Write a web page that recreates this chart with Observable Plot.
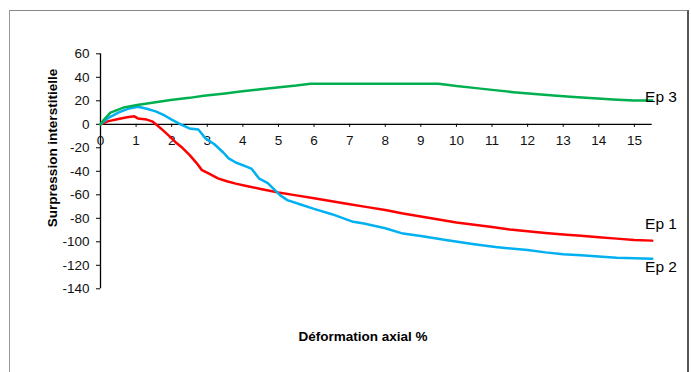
<!DOCTYPE html>
<html>
<head>
<meta charset="utf-8">
<script src="https://cdn.jsdelivr.net/npm/d3@7"></script>
<script src="https://cdn.jsdelivr.net/npm/@observablehq/plot@0.6"></script>
<style>
  body { margin: 0; background: #fff; }
  #wrap { position: relative; width: 691px; height: 372px; overflow: hidden; font-family: 'Liberation Sans', Arial, sans-serif; }
  #frame { position: absolute; left: 9px; top: 10px; width: 677px; height: 400px;
           border-left: 1px solid #999; border-top: 1px solid #888; border-right: 2px solid #555; }
  #chart { position: absolute; left: 0; top: 0; }
  .title { position: absolute; font-weight: bold; font-size: 13.5px; color: #000; white-space: nowrap; line-height: 1; }
  #ytitle { left: 53px; top: 148px; transform: translate(-50%, -50%) rotate(-90deg); }
  #xtitle { left: 363px; top: 337px; transform: translate(-50%, -50%); }
</style>
</head>
<body>
<div id="wrap"><div id="frame"></div><div id="chart"></div>
<div class="title" id="ytitle"></div><div class="title" id="xtitle"></div></div>
<script>
const ep1X = [0, 0.2, 0.5, 0.75, 0.95, 1.05, 1.3, 1.45, 1.6, 1.75, 1.95, 2.1, 2.3, 2.5, 2.7, 2.85, 3.05, 3.3, 3.55, 3.8, 4.1, 4.5, 5.0, 5.5, 6.0, 6.5, 7.0, 7.5, 8.0, 8.5, 9.0, 9.5, 10.0, 10.5, 11.0, 11.5, 12.0, 12.5, 13.0, 13.5, 14.0, 14.5, 15.0, 15.5];
const ep1Y = [0, 2.5, 4.5, 6, 6.8, 5, 4, 2.5, -1, -5, -10.5, -15, -20, -26, -33, -39, -42, -46, -48.5, -50.5, -52.5, -55, -58, -60.5, -63, -65.5, -68, -70.5, -73, -76, -78.5, -81, -83.5, -85.5, -87.5, -89.5, -91, -92.5, -93.8, -94.8, -96.2, -97.3, -98.5, -99];

const ep2X = [0, 0.2, 0.5, 0.8, 1.05, 1.3, 1.55, 1.8, 2.0, 2.25, 2.5, 2.75, 2.95, 3.2, 3.45, 3.6, 3.8, 4.1, 4.25, 4.45, 4.7, 4.9, 5.05, 5.25, 5.6, 6.0, 6.5, 7.1, 7.4, 8.0, 8.5, 9.0, 9.7, 10.5, 11.1, 12.0, 12.5, 13.0, 13.5, 14.0, 14.5, 15.0, 15.5];
const ep2Y = [0, 5, 10, 13.5, 15, 13.2, 11, 7.5, 4, 0, -3.5, -4.5, -12, -17, -24, -29, -32.5, -36, -38, -46, -50, -56, -60.5, -64.5, -68, -72, -76.5, -83, -84.5, -88.5, -93, -95, -98.5, -102, -104.5, -107, -109, -110.5, -111.5, -112.5, -113.5, -114, -114.5];

const ep3X = [0, 0.1, 0.28, 0.5, 0.66, 1.03, 1.5, 1.97, 2.5, 2.9, 3.5, 3.93, 4.5, 4.96, 5.5, 5.9, 6.5, 9.5, 10.0, 10.49, 11.0, 11.6, 12.2, 12.73, 13.3, 13.86, 14.4, 14.98, 15.5];
const ep3Y = [0, 4, 10, 12.5, 14.4, 16.4, 18.5, 20.6, 22.5, 24.3, 26.3, 28, 29.8, 31.4, 33, 34.5, 34.5, 34.5, 32.5, 31, 29.3, 27.3, 25.7, 24.5, 23.3, 22.2, 21.2, 20.2, 20.2];

const seriesNames = ["Ep 1", "Ep 2", "Ep 3"];
const seriesColors = ["#ff0000", "#00b0f0", "#00b050"];
const labelX = [15.3, 15.3, 15.3];
const labelY = [-85, -121.5, 23];

const xTicks = [0,1,2,3,4,5,6,7,8,9,10,11,12,13,14,15];
const yTicks = [-140,-120,-100,-80,-60,-40,-20,0,20,40,60];
const xTitle = "Déformation axial %";
const yTitle = "Surpression interstitielle";

const toRows = (xs, ys, name) => xs.map((x, i) => ({x, y: ys[i], s: name}));
const rows = [
  ...toRows(ep1X, ep1Y, "Ep 1"),
  ...toRows(ep2X, ep2Y, "Ep 2"),
  ...toRows(ep3X, ep3Y, "Ep 3")
];
const labels = seriesNames.map((s, i) => ({s, x: labelX[i], y: labelY[i]}));

const font = "'Liberation Sans', Arial, sans-serif";

const chart = Plot.plot({
  width: 691,
  height: 372,
  marginLeft: 100,
  marginRight: 39.3,
  marginTop: 53.3,
  marginBottom: 83.7,
  style: { fontFamily: font, fontSize: "13.5px", color: "#000", background: "transparent", overflow: "visible" },
  x: { domain: [0, 15.5], axis: null },
  y: { domain: [-140, 60], axis: null },
  color: { domain: seriesNames, range: seriesColors },
  marks: [
    Plot.axisY(yTicks, { anchor: "left", tickSize: 4, tickPadding: 7, stroke: "#000", fill: "#111", fontSize: 13.5, label: null, tickFormat: d => String(d) }),
    Plot.ruleX([0], { stroke: "#000", strokeWidth: 1.3 }),
    Plot.ruleY([0], { stroke: "#000", strokeWidth: 1.3 }),
    Plot.ruleX(xTicks, { x: d => d, y1: 0, y2: -2.6, stroke: "#000" }),
    Plot.text(xTicks, { x: d => d, y: 0, dy: 16, text: d => String(d), fontSize: 13.5, fill: "#111" }),
    Plot.line(rows, { x: "x", y: "y", z: "s", stroke: "s", strokeWidth: 2.5, curve: "linear" }),
    Plot.text(labels, { x: "x", y: "y", text: "s", textAnchor: "start", fontSize: 15.5, fill: "#000" })
  ]
});
document.getElementById("chart").appendChild(chart);
document.getElementById("xtitle").textContent = xTitle;
document.getElementById("ytitle").textContent = yTitle;
</script>
</body>
</html>
